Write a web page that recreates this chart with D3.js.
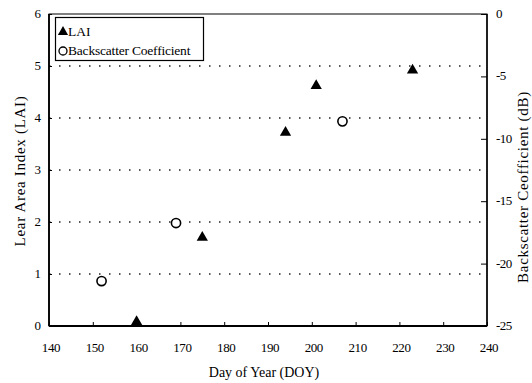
<!DOCTYPE html>
<html>
<head>
<meta charset="utf-8">
<script src="https://cdn.jsdelivr.net/npm/d3@7"></script>
<style>
  body { margin: 0; background: #fff; }
  text { font-family: "Liberation Serif", "Times New Roman", serif; fill: #000; }
</style>
</head>
<body>
<div id="chart"></div>
<script>
// LAI measurements (triangles, left axis)
var laiDoy = [160, 175, 194, 201, 223]
var laiVal = [0.08, 1.7, 3.72, 4.62, 4.92]

// backscatter coefficient (circles, right axis, dB)
var bsDoy = [152, 169, 207]
var bsVal = [-21.4, -16.75, -8.6]

var xTicks = [140, 150, 160, 170, 180, 190, 200, 210, 220, 230, 240]
var leftTicks = [0, 1, 2, 3, 4, 5, 6]
var rightTicks = [0, -5, -10, -15, -20, -25]
var gridVals = [1, 2, 3, 4, 5]

var width = 532
var height = 383
var margin = {left: 49, right: 45, top: 14, bottom: 57}

var svg = d3.select("#chart")
  .append("svg")
  .attr("width", width)
  .attr("height", height)

var x = d3.scaleLinear().domain([140, 240]).range([margin.left, width - margin.right])
var yL = d3.scaleLinear().domain([0, 6]).range([height - margin.bottom, margin.top])
var yR = d3.scaleLinear().domain([-25, 0]).range([height - margin.bottom, margin.top])

// dotted grid
svg.append("g")
  .selectAll("line")
  .data(gridVals)
  .join("line")
    .attr("x1", x(140)).attr("x2", x(240))
    .attr("y1", d => yL(d)).attr("y2", d => yL(d))
    .attr("stroke", "#222")
    .attr("stroke-width", 1.3)
    .attr("stroke-dasharray", "1.5,8.5")

// frame
svg.append("rect")
  .attr("x", x(140)).attr("y", yL(6))
  .attr("width", x(240) - x(140)).attr("height", yL(0) - yL(6))
  .attr("fill", "none")
  .attr("stroke", "#000")
  .attr("stroke-width", 1)

// thicker left / bottom / right lines
svg.append("line")
  .attr("x1", x(140)).attr("x2", x(140)).attr("y1", yL(0)).attr("y2", yL(6))
  .attr("stroke", "#000").attr("stroke-width", 1.8)
svg.append("line")
  .attr("x1", x(140)).attr("x2", x(240)).attr("y1", yL(0)).attr("y2", yL(0))
  .attr("stroke", "#000").attr("stroke-width", 2)
svg.append("line")
  .attr("x1", x(240)).attr("x2", x(240)).attr("y1", yL(0)).attr("y2", yL(6))
  .attr("stroke", "#000").attr("stroke-width", 1.5)

// axes (ticks pointing inward)
var xAxis = svg.append("g")
  .attr("transform", `translate(0,${yL(0)})`)
  .call(d3.axisTop(x).tickValues(xTicks).tickSize(4).tickFormat(""))
xAxis.select(".domain").remove()
svg.append("g")
  .selectAll("text")
  .data(xTicks)
  .join("text")
    .attr("x", d => x(d) + 2)
    .attr("y", yL(0) + 26)
    .attr("text-anchor", "middle")
    .attr("font-size", 13)
    .attr("letter-spacing", -0.4)
    .text(d => d)

var leftAxis = svg.append("g")
  .attr("transform", `translate(${x(140)},0)`)
  .call(d3.axisRight(yL).tickValues(leftTicks).tickSize(3).tickFormat(""))
leftAxis.select(".domain").remove()
svg.append("g")
  .selectAll("text")
  .data(leftTicks)
  .join("text")
    .attr("x", x(140) - 8)
    .attr("y", d => yL(d) + 4)
    .attr("text-anchor", "end")
    .attr("font-size", 13)
    .text(d => d)

var rightAxis = svg.append("g")
  .attr("transform", `translate(${x(240)},0)`)
  .call(d3.axisLeft(yR).tickValues(rightTicks).tickSize(6).tickFormat(""))
rightAxis.select(".domain").remove()
svg.append("g")
  .selectAll("text")
  .data(rightTicks)
  .join("text")
    .attr("x", x(240) + 9)
    .attr("y", d => yR(d) + 4)
    .attr("text-anchor", "start")
    .attr("font-size", 13)
    .attr("letter-spacing", -0.6)
    .text(d => d)

// axis titles
svg.append("text")
  .attr("x", 264).attr("y", 377)
  .attr("text-anchor", "middle")
  .attr("font-size", 14)
  .text("Day of Year (DOY)")

svg.append("text")
  .attr("transform", `translate(25,171) rotate(-90)`)
  .attr("text-anchor", "middle")
  .attr("font-size", 15)
  .attr("letter-spacing", 0.7)
  .text("Lear Area Index (LAI)")

svg.append("text")
  .attr("transform", `translate(528,187) rotate(-90)`)
  .attr("text-anchor", "middle")
  .attr("font-size", 15)
  .attr("letter-spacing", 0.7)
  .text("Backscatter Ceofficient (dB)")

// data
var tri = d3.symbol().type(d3.symbolTriangle).size(55)

svg.append("g")
  .selectAll("path")
  .data(laiDoy)
  .join("path")
    .attr("d", tri)
    .attr("transform", (d, i) => `translate(${x(d)},${yL(laiVal[i])})`)
    .attr("fill", "#000")

svg.append("g")
  .selectAll("circle")
  .data(bsDoy)
  .join("circle")
    .attr("cx", d => x(d))
    .attr("cy", (d, i) => yR(bsVal[i]))
    .attr("r", 4.6)
    .attr("fill", "#fff")
    .attr("stroke", "#000")
    .attr("stroke-width", 1.6)

// legend
var lg = svg.append("g")
lg.append("rect")
  .attr("x", 55.5).attr("y", 17.5).attr("width", 148).attr("height", 43)
  .attr("fill", "#fff").attr("stroke", "#000").attr("stroke-width", 1.2)
lg.append("path")
  .attr("d", d3.symbol().type(d3.symbolTriangle).size(45))
  .attr("transform", "translate(63,32)")
lg.append("text").attr("x", 68).attr("y", 36).attr("font-size", 13.5).text("LAI")
lg.append("circle")
  .attr("cx", 63).attr("cy", 51).attr("r", 4)
  .attr("fill", "#fff").attr("stroke", "#000").attr("stroke-width", 1.3)
lg.append("text").attr("x", 68).attr("y", 55).attr("font-size", 13.5)
  .attr("letter-spacing", -0.2).text("Backscatter Coefficient")
</script>
</body>
</html>
